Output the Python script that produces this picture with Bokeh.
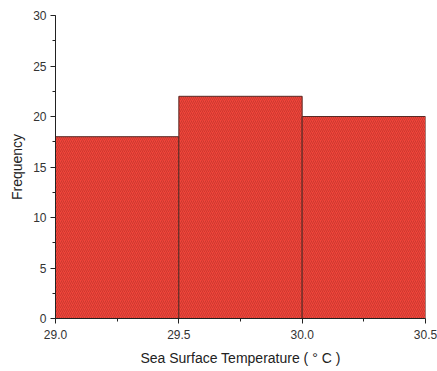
from bokeh.plotting import figure
from bokeh.models import FixedTicker, SingleIntervalTicker, Range1d
from bokeh.embed import file_html
from bokeh.resources import INLINE

bin_left = [29.0, 29.5, 30.0]
bin_right = [29.5, 30.0, 30.5]
frequency = [18, 22, 20]
x_ticks = [29.0, 29.5, 30.0, 30.5]
x_minor = [29.25, 29.75, 30.25]

p = figure(width=437, height=371, output_backend="svg", toolbar_location=None,
           x_range=Range1d(29.0, 30.5), y_range=Range1d(0, 30),
           min_border_left=55, min_border_right=12, min_border_top=15, min_border_bottom=53)
p.outline_line_color = None
p.xgrid.visible = False
p.ygrid.visible = False

p.quad(left=bin_left, right=bin_right, bottom=0, top=frequency,
       fill_color="#f0443a", line_color="#5a2a25", line_width=1,
       hatch_pattern="/", hatch_color="#6a1a14", hatch_alpha=0.45,
       hatch_scale=4, hatch_weight=0.6)

p.xaxis.ticker = FixedTicker(ticks=x_ticks, minor_ticks=x_minor)
p.xaxis.major_label_overrides = {29.0: "29.0", 29.5: "29.5", 30.0: "30.0", 30.5: "30.5"}
p.yaxis.ticker = SingleIntervalTicker(interval=5, num_minor_ticks=2)

for ax in (p.xaxis[0], p.yaxis[0]):
    ax.axis_line_color = "#222222"
    ax.major_tick_line_color = "#222222"
    ax.minor_tick_line_color = "#222222"
    ax.major_tick_out = 5
    ax.major_tick_in = 0
    ax.minor_tick_out = 3
    ax.minor_tick_in = 0
    ax.major_label_text_font = "Liberation Sans"
    ax.major_label_text_font_size = "12px"
    ax.major_label_text_color = "#333333"
    ax.axis_label_text_font = "Liberation Sans"
    ax.axis_label_text_font_size = "14px"
    ax.axis_label_text_font_style = "normal"
    ax.axis_label_text_color = "#222222"

p.xaxis.axis_label = "Sea Surface Temperature ( \u00b0 C )"
p.yaxis.axis_label = "Frequency"
p.xaxis.major_label_standoff = 6
p.yaxis.major_label_standoff = 4
p.xaxis.axis_label_standoff = 8

open("out.html", "w").write(file_html(p, INLINE))
